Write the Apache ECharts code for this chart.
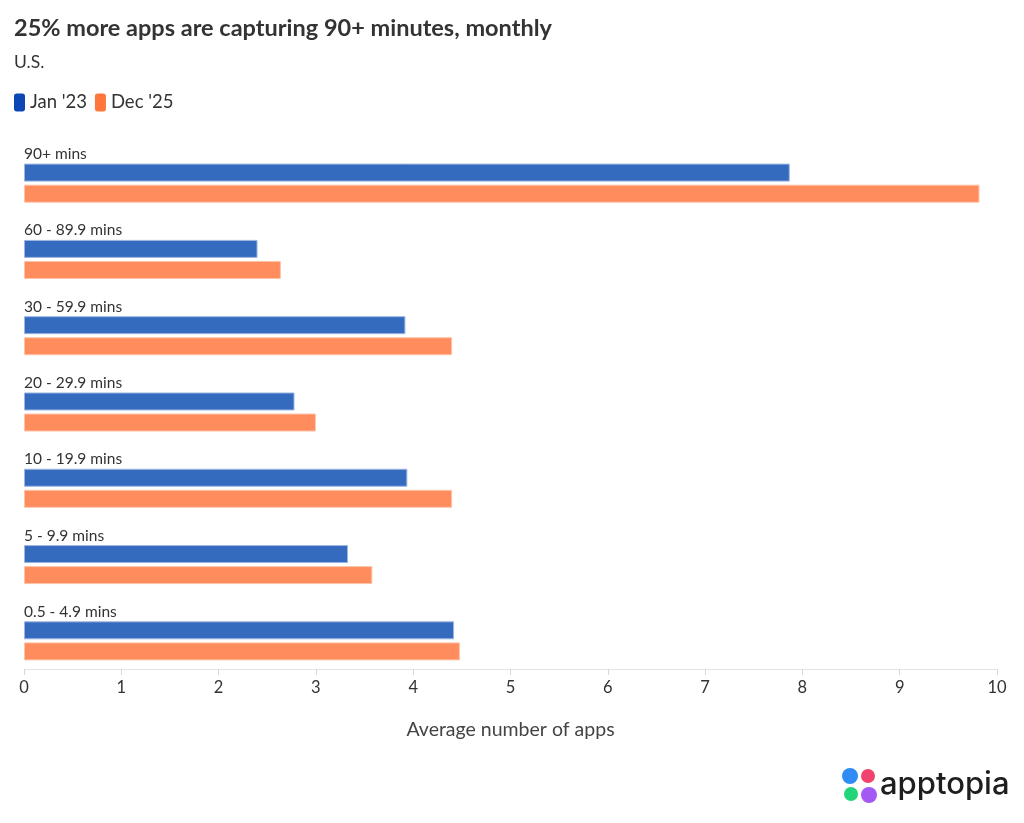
<!DOCTYPE html>
<html><head><meta charset="utf-8">
<script src="https://cdn.jsdelivr.net/npm/echarts@6/dist/echarts.min.js"></script>
<style>html,body{margin:0;padding:0;background:#fff}#c{width:1024px;height:823px}</style>
</head><body><div id="c"></div>
<script>
const categories = ['90+ mins','60 - 89.9 mins','30 - 59.9 mins','20 - 29.9 mins','10 - 19.9 mins','5 - 9.9 mins','0.5 - 4.9 mins'];
const jan23 = [7.87, 2.40, 3.92, 2.78, 3.94, 3.33, 4.42];
const dec25 = [9.82, 2.64, 4.40, 3.00, 4.40, 3.58, 4.48];
const seriesNames = ["Jan '23", "Dec '25"];
const xTicks = [0,1,2,3,4,5,6,7,8,9,10];

const chart = echarts.init(document.getElementById('c'));
const font = 'Lato, "Noto Sans", sans-serif';
chart.setOption({
  backgroundColor:'#fff',
  animation:false,
  textStyle:{fontFamily:font},
  title:[
    {text:'25% more apps are capturing 90+ minutes, monthly', left:9, top:11,
     textStyle:{fontFamily:font, fontSize:23.5, fontWeight:'bold', color:'#333'}},
    {text:'U.S.', left:9, top:48, textStyle:{fontFamily:font, fontSize:17.5, fontWeight:'normal', color:'#333'}}
  ],
  legend:{
    left:9, top:88, itemWidth:11, itemHeight:18, itemGap:8,
    icon:'roundRect',
    itemStyle:{borderWidth:0},
    textStyle:{fontFamily:font, fontSize:18.5, color:'#333', padding:[0,0,0,0]},
    data:[
      {name:seriesNames[0], itemStyle:{color:'#0D47B5', borderWidth:0}},
      {name:seriesNames[1], itemStyle:{color:'#FF773B', borderWidth:0}}
    ]
  },
  grid:{left:24, right:27, top:145, bottom:823-679, containLabel:false},
  xAxis:{
    type:'value', min:0, max:10, interval:1, offset:-10,
    axisLine:{show:true, lineStyle:{color:'#e3e3e3', width:1}},
    axisTick:{show:true, length:6, lineStyle:{color:'#d8d8d8'}},
    splitLine:{show:false},
    axisLabel:{fontFamily:font, fontSize:16.5, color:'#333', margin:10,
      formatter:v=>xTicks.includes(v)?String(v):''},
    name:'Average number of apps', nameLocation:'middle', nameGap:51,
    nameTextStyle:{fontFamily:font, fontSize:19.5, color:'#444'}
  },
  yAxis:{
    type:'category', data:categories, inverse:true,
    axisLine:{show:false}, axisTick:{show:false},
    axisLabel:{inside:true, margin:0, align:'left', verticalAlign:'bottom',
      padding:[0,0,21,0], fontFamily:font, fontSize:15.5, color:'#333'}
  },
  series:[
    {name:seriesNames[0], type:'bar', data:jan23, barWidth:18, barGap:'17%',
     itemStyle:{color:'#356BBF', borderColor:'#9cb6e0', borderWidth:1}},
    {name:seriesNames[1], type:'bar', data:dec25, barWidth:18,
     itemStyle:{color:'#FF8C5C', borderColor:'#ffc3a8', borderWidth:1}}
  ],
  graphic:[
    {type:'group', left:842, top:768, children:[
      {type:'circle', shape:{cx:8, cy:8, r:8}, style:{fill:'#2F8CF5'}},
      {type:'circle', shape:{cx:26, cy:8, r:7}, style:{fill:'#F2436F'}},
      {type:'circle', shape:{cx:9, cy:26, r:7}, style:{fill:'#22D47A'}},
      {type:'circle', shape:{cx:27, cy:27, r:8}, style:{fill:'#A35AF5'}},
      {type:'text', x:38, y:1, style:{text:'apptopia', font:'500 31px Inter, "Open Sans", sans-serif', fill:'#1e1e1e'}}
    ]}
  ]
});
</script></body></html>
